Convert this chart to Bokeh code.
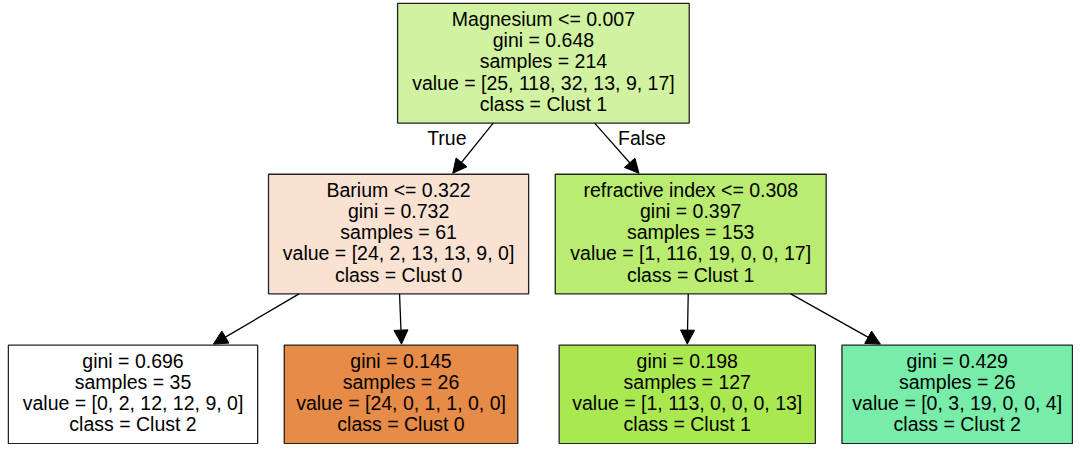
from bokeh.plotting import figure
from bokeh.models import ColumnDataSource, Range1d, Arrow, NormalHead
from bokeh.core.properties import value
from bokeh.embed import file_html
from bokeh.resources import INLINE

# ---- data ----
split_features = ["Magnesium", "Barium", "refractive index", None, None, None, None]
thresholds = [0.007, 0.322, 0.308, None, None, None, None]
gini = [0.648, 0.732, 0.397, 0.696, 0.145, 0.198, 0.429]
samples = [214, 61, 153, 35, 26, 127, 26]
values = [
    [25, 118, 32, 13, 9, 17],
    [24, 2, 13, 13, 9, 0],
    [1, 116, 19, 0, 0, 17],
    [0, 2, 12, 12, 9, 0],
    [24, 0, 1, 1, 0, 0],
    [1, 113, 0, 0, 0, 13],
    [0, 3, 19, 0, 0, 4],
]
class_names = ["Clust 1", "Clust 0", "Clust 1", "Clust 2", "Clust 0", "Clust 1", "Clust 2"]
edges = [(0, 1), (0, 2), (1, 3), (1, 4), (2, 5), (2, 6)]
edge_labels = ["True", "False"]

# ---- layout / style (image pixel coordinates) ----
box_left = [403, 272, 563, 8, 288, 567, 854]
box_right = [699, 536, 838, 261, 525, 827, 1088]
box_top = [3, 180, 180, 357, 357, 357, 357]
box_bottom = [127, 304, 304, 459, 459, 459, 459]
fills = ["#d1f3a1", "#f9e2d2", "#b9ec70", "#ffffff", "#e78b49", "#aae851", "#78eda9"]
edge_start = [(500, 127), (603, 127), (303, 304), (405, 304), (698, 304), (802, 304)]
edge_end = [(459, 179), (648, 179), (216, 356), (407, 356), (697, 356), (893, 356)]
edge_label_pos = [(453, 142), (651, 142)]
line_h = 22.0
FONT = "Liberation Sans"

p = figure(width=1073, height=444, output_backend="svg", toolbar_location=None,
           x_range=Range1d(0, 1089), y_range=Range1d(460, 0),
           min_border=0, outline_line_color=None, background_fill_color="white")
p.axis.visible = False
p.grid.visible = False

p.quad(left=box_left, right=box_right, top=box_top, bottom=box_bottom,
       fill_color=fills, line_color="#222222", line_width=1.3)

tx, ty, tt = [], [], []
for i in range(len(gini)):
    lines = []
    if split_features[i] is not None:
        lines.append(f"{split_features[i]} <= {thresholds[i]}")
    lines.append(f"gini = {gini[i]}")
    lines.append(f"samples = {samples[i]}")
    lines.append("value = [" + ", ".join(str(v) for v in values[i]) + "]")
    lines.append(f"class = {class_names[i]}")
    cx = (box_left[i] + box_right[i]) / 2
    cy = (box_top[i] + box_bottom[i]) / 2 - 2
    n = len(lines)
    for k, s in enumerate(lines):
        tx.append(cx)
        ty.append(cy + (k - (n - 1) / 2) * line_h)
        tt.append(s)

p.text(x=tx, y=ty, text=tt, text_align="center", text_baseline="middle",
       text_font=value(FONT), text_font_size="19.5px", text_color="black")

asrc = ColumnDataSource(dict(
    x0=[s[0] for s in edge_start], y0=[s[1] for s in edge_start],
    x1=[e[0] for e in edge_end], y1=[e[1] for e in edge_end]))
p.add_layout(Arrow(end=NormalHead(size=14, fill_color="black", line_color="black", line_width=1),
                   x_start="x0", y_start="y0", x_end="x1", y_end="y1",
                   source=asrc, line_color="black", line_width=1.3))

p.text(x=[q[0] for q in edge_label_pos], y=[q[1] for q in edge_label_pos], text=edge_labels,
       text_align="center", text_baseline="middle",
       text_font=value(FONT), text_font_size="19.5px", text_color="black")

open("out.html", "w").write(file_html(p, INLINE))
